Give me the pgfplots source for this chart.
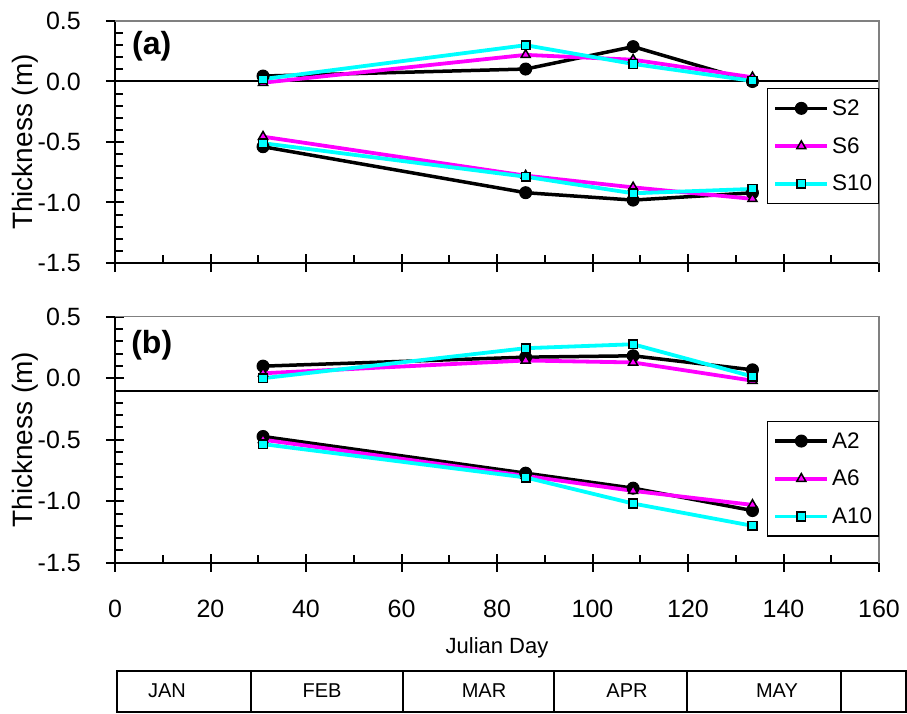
\documentclass[border=0pt]{standalone}
\usepackage{fontspec}
\setmainfont{Liberation Sans}
\usepackage{pgfplots}
\pgfplotsset{compat=1.18}
\definecolor{mag}{RGB}{255,0,255}
\definecolor{cya}{RGB}{0,255,255}
\definecolor{boxgray}{RGB}{128,128,128}

\pgfplotsset{
  common/.style={
    scale only axis, width=764pt,
    xmin=0, xmax=160, ymin=-1.5, ymax=0.5,
    axis lines*=left, axis line style={-, black, line width=2pt},
    xtick={0,20,40,60,80,100,120,140,160}, minor x tick num=1,
    ytick={-1.5,-1,-0.5,0,0.5}, yticklabels={-1.5,-1.0,-0.5,0.0,0.5}, minor y tick num=4,
    tick align=center, major tick length=18pt, minor tick length=8pt,
    tick style={black, line width=2pt},
    minor x tick style={yshift=4pt}, minor y tick style={xshift=4pt},
    yticklabel style={font=\fontsize{25}{30}\selectfont, anchor=east, inner sep=0pt, xshift=-25pt},
    ylabel={Thickness (m)},
    ylabel style={font=\fontsize{28}{34}\selectfont, at={(axis description cs:-0.1178,0.5)}, anchor=center},
    unbounded coords=jump, clip=false,
    legend cell align=left,
    legend style={at={(1,1)}, anchor=north east, draw=black, line width=1.5pt,
      font=\fontsize{22.5}{27}\selectfont, inner xsep=6pt, inner ysep=11pt,
      row sep=20.5pt, column sep=3pt, nodes={inner sep=0pt}},
    legend image code/.code={\draw[mark repeat=2, mark phase=2] plot coordinates {(0pt,0pt) (26pt,0pt) (52pt,0pt)};},
  },
  s2/.style={black, line width=3.5pt, mark=*, mark size=6pt, mark options={solid, fill=black, draw=black, line width=1pt}},
  s6/.style={mag, line width=3.8pt, mark=triangle*, mark size=5.2pt, mark options={solid, fill=mag, draw=black, line width=1.5pt}},
  s10/.style={cya, line width=3.8pt, mark=square*, mark size=4.3pt, mark options={solid, fill=cya, draw=black, line width=1.5pt}},
}

\begin{document}
\begin{tikzpicture}
\useasboundingbox (0,0) rectangle (907pt,713pt);

% Panel (a)
\begin{axis}[common, at={(115pt,450pt)}, anchor=south west, height=242pt,
  xticklabel=\empty,
  legend style={yshift=-67pt}]
\draw[black, line width=2pt] (axis cs:0,0) -- (axis cs:160,0);
\addplot[s2] coordinates {(31,0.045) (86,0.103) (108.5,0.288) (133.5,0.0) (133.5,nan)
  (31,-0.539) (86,-0.919) (108.5,-0.98) (133.5,-0.92)};
\addplot[s6] coordinates {(31,-0.01) (86,0.22) (108.5,0.18) (133.5,0.035) (133.5,nan)
  (31,-0.456) (86,-0.778) (108.5,-0.875) (133.5,-0.97)};
\addplot[s10] coordinates {(31,0.02) (86,0.30) (108.5,0.145) (133.5,0.005) (133.5,nan)
  (31,-0.51) (86,-0.787) (108.5,-0.924) (133.5,-0.888)};
\legend{S2,S6,S10}
\draw[boxgray, line width=1.5pt] (rel axis cs:0,1) -- (rel axis cs:1,1) -- (rel axis cs:1,0);
\node[font=\fontsize{32}{38}\selectfont\bfseries] at (axis cs:7.7,0.293) {(a)};
\end{axis}

% Panel (b)
\begin{axis}[common, at={(115pt,150.3pt)}, anchor=south west, height=246pt,
  xticklabels={0,20,40,60,80,100,120,140,160},
  xticklabel style={font=\fontsize{25}{30}\selectfont, anchor=base, inner sep=0pt, yshift=-46pt},
  xlabel={Julian Day},
  xlabel style={font=\fontsize{22}{26}\selectfont, at={(axis description cs:0.5,0)}, yshift=-85pt, anchor=center},
  legend style={yshift=-104pt}]
\draw[black, line width=2pt] (axis cs:0,-0.1) -- (axis cs:160,-0.1);
\addplot[s2] coordinates {(31,0.098) (86,0.171) (108.5,0.182) (133.5,0.068) (133.5,nan)
  (31,-0.474) (86,-0.772) (108.5,-0.894) (133.5,-1.076)};
\addplot[s6] coordinates {(31,0.04) (86,0.144) (108.5,0.128) (133.5,-0.02) (133.5,nan)
  (31,-0.5) (86,-0.794) (108.5,-0.916) (133.5,-1.03)};
\addplot[s10] coordinates {(31,0.0) (86,0.244) (108.5,0.276) (133.5,0.014) (133.5,nan)
  (31,-0.536) (86,-0.807) (108.5,-1.019) (133.5,-1.2)};
\legend{A2,A6,A10}
\draw[boxgray, line width=1.5pt] (rel axis cs:0,1) -- (rel axis cs:1,1) -- (rel axis cs:1,0);
\node[font=\fontsize{32}{38}\selectfont\bfseries] at (axis cs:7.7,0.266) {(b)};
\end{axis}

% Month bar
\draw[line width=2pt] (116.7pt,1pt) rectangle (906pt,42pt);
\foreach \xx in {251,402.7,554.3,686.7,840.7} {\draw[line width=2pt] (\xx pt,1pt) -- (\xx pt,42pt);}
\begin{scope}[font=\fontsize{20}{24}\selectfont]
\node at (167pt,22pt) {JAN};
\node at (322pt,22pt) {FEB};
\node at (484pt,22pt) {MAR};
\node at (627pt,22pt) {APR};
\node at (777pt,22pt) {MAY};
\end{scope}
\end{tikzpicture}
\end{document}
